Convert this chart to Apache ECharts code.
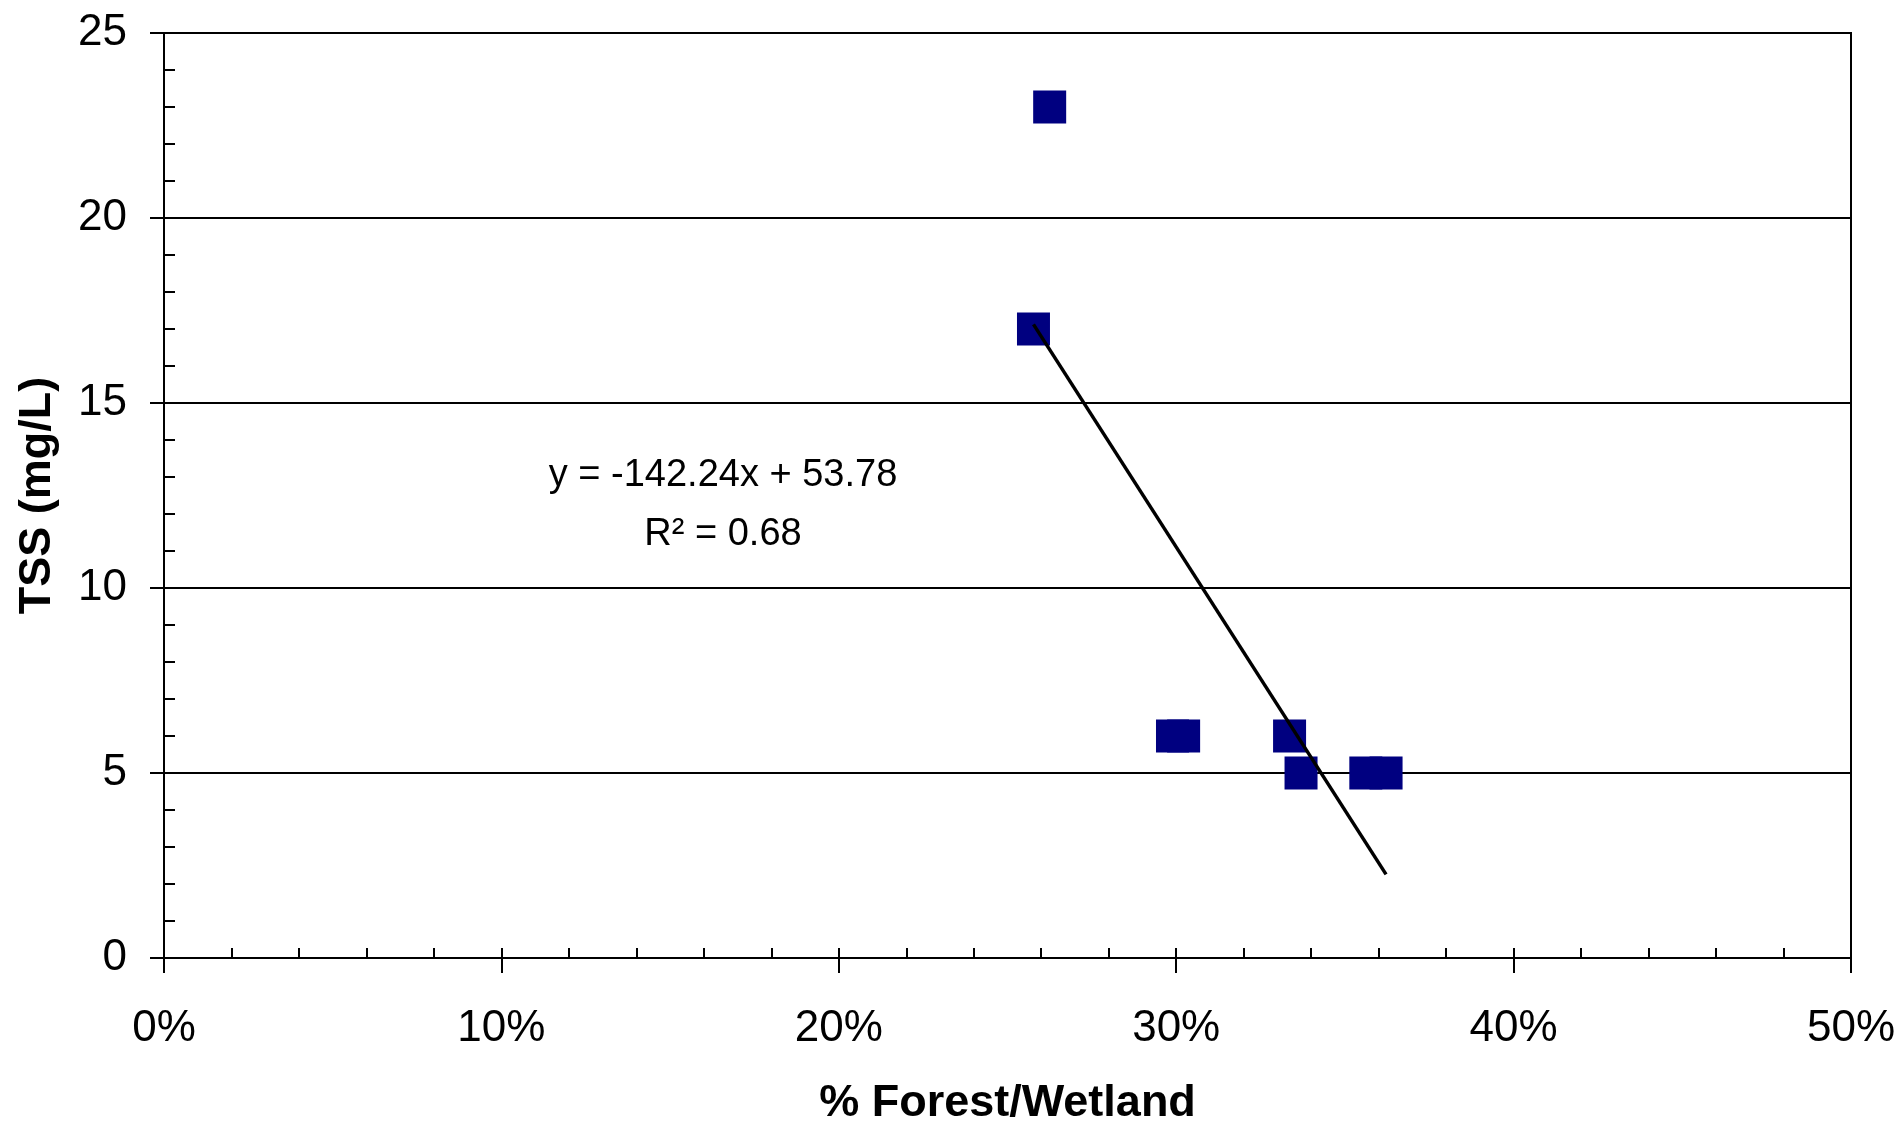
<!DOCTYPE html>
<html>
<head>
<meta charset="utf-8">
<script src="https://cdn.jsdelivr.net/npm/echarts@6/dist/echarts.min.js"></script>
<style>
html,body{margin:0;padding:0;background:#fff;}
#chart{width:1902px;height:1123px;}
</style>
</head>
<body>
<div id="chart"></div>
<script>
// Data
const forestPct = [0.2625, 0.2577, 0.2989, 0.3022, 0.3336, 0.3370, 0.3562, 0.3622];
const tssValues = [23, 17, 6, 6, 6, 5, 5, 5];
// Trendline equation shown on chart
const trendSlope = -142.24;
const trendIntercept = 53.78;
const equationText = 'y = -142.24x + 53.78';
const r2Text = 'R² = 0.68';
const xTitle = '% Forest/Wetland';
const yTitle = 'TSS (mg/L)';

const points = forestPct.map((x, i) => [x, tssValues[i]]);
const xMin = Math.min(...forestPct), xMax = Math.max(...forestPct);
const trend = [[xMin, trendSlope * xMin + trendIntercept], [xMax, trendSlope * xMax + trendIntercept]];

const FONT = '"Liberation Sans", Arial, sans-serif';
const chart = echarts.init(document.getElementById('chart'));
chart.setOption({
  backgroundColor: '#fff',
  animation: false,
  grid: { left: 164, right: 51, top: 33, bottom: 165, containLabel: false, outerBoundsMode: 'none', show: true, borderColor: '#000', borderWidth: 2, backgroundColor: 'transparent' },
  xAxis: [
    {
      type: 'value', min: 0, max: 0.5, interval: 0.1,
      name: xTitle, nameLocation: 'middle', nameGap: 123,
      nameTextStyle: { fontFamily: FONT, fontSize: 45, fontWeight: 'bold', color: '#000' },
      axisLine: { show: true, onZero: false, lineStyle: { color: '#000', width: 2 } },
      axisTick: { show: true, inside: false, length: 15, lineStyle: { color: '#000', width: 2 } },
      axisLabel: { fontFamily: FONT, fontSize: 44, color: '#000', margin: 49, formatter: v => Math.round(v * 100) + '%' },
      splitLine: { show: false }
    },
    {
      type: 'value', min: 0, max: 0.5, interval: 0.02, position: 'bottom',
      axisLine: { show: false },
      axisTick: { show: true, inside: true, length: 10, lineStyle: { color: '#000', width: 2 } },
      axisLabel: { show: false },
      splitLine: { show: false }
    }
  ],
  yAxis: [
    {
      type: 'value', min: 0, max: 25, interval: 5,
      name: yTitle, nameLocation: 'middle', nameGap: 104,
      nameTextStyle: { fontFamily: FONT, fontSize: 45, fontWeight: 'bold', color: '#000' },
      axisLine: { show: true, onZero: false, lineStyle: { color: '#000', width: 2 } },
      axisTick: { show: true, inside: false, length: 14, lineStyle: { color: '#000', width: 2 } },
      axisLabel: { fontFamily: FONT, fontSize: 44, color: '#000', margin: 37 },
      splitLine: { show: true, lineStyle: { color: '#000', width: 2 } }
    },
    {
      type: 'value', min: 0, max: 25, interval: 1, position: 'left',
      axisLine: { show: false },
      axisTick: { show: true, inside: true, length: 11, lineStyle: { color: '#000', width: 2 } },
      axisLabel: { show: false },
      splitLine: { show: false }
    }
  ],
  series: [
    {
      type: 'scatter', xAxisIndex: 0, yAxisIndex: 0,
      data: points, symbol: 'rect', symbolSize: 33,
      itemStyle: { color: '#000080', opacity: 1 }, z: 3
    },
    {
      type: 'line', xAxisIndex: 0, yAxisIndex: 0,
      data: trend, showSymbol: false, symbol: 'none',
      lineStyle: { color: '#000', width: 3.5 }, z: 4, silent: true
    }
  ],
  graphic: [
    { type: 'text', x: 723, y: 476, style: { text: equationText, font: '38px ' + FONT, fill: '#000', align: 'center', verticalAlign: 'middle' } },
    { type: 'text', x: 723, y: 535, style: { text: r2Text, font: '38px ' + FONT, fill: '#000', align: 'center', verticalAlign: 'middle' } }
  ]
});
</script>
</body>
</html>
